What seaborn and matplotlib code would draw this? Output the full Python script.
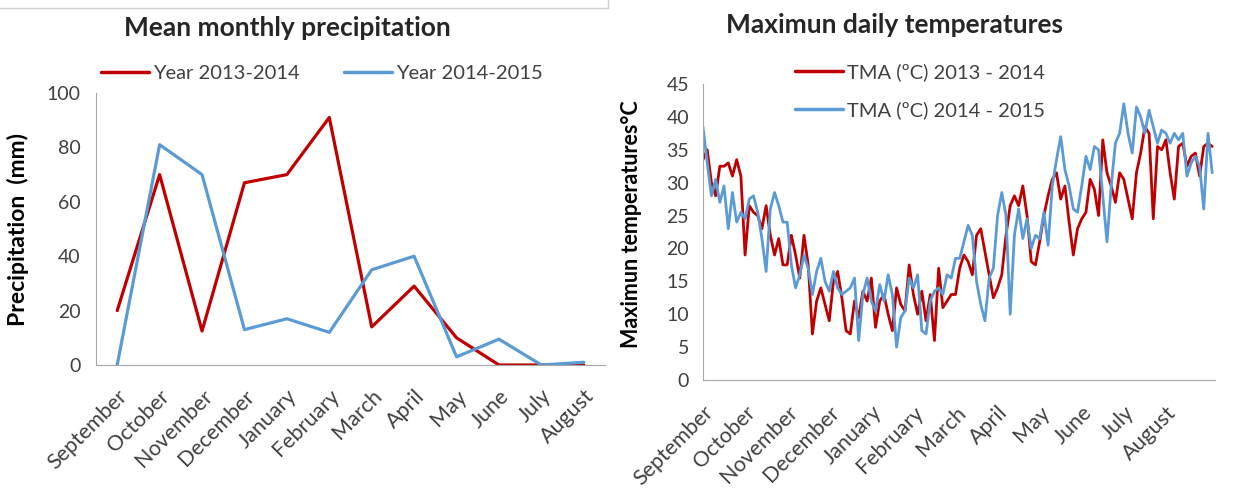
import numpy as np
import pandas as pd
import matplotlib
matplotlib.use('Agg')
import matplotlib.pyplot as plt
import seaborn as sns
from matplotlib.lines import Line2D

# Monthly precipitation (mm)
months = ['September', 'October', 'November', 'December', 'January', 'February',
          'March', 'April', 'May', 'June', 'July', 'August']
rain_1314 = [20, 70, 12.5, 67, 70, 91, 14, 29, 10, 0, 0, 0]
rain_1415 = [0, 81, 70, 13, 17, 12, 35, 40, 3, 9.5, 0, 1]

# Maximum daily temperature, read every 3 days starting 1 September
tma_1314 = [33.5, 35, 30, 28, 32.5, 32.5, 33, 31, 33.5, 31,
            19, 26.5, 25.5, 25, 23, 26.5, 22, 19, 21.5, 17.5,
            17.5, 22, 19, 15.5, 22, 17.5, 7, 12, 14, 11.5,
            9, 15, 16.5, 12.5, 7.5, 7, 12, 9.5, 13.5, 12,
            15.5, 8, 12, 13, 10, 7.5, 14, 11.5, 10.5, 17.5,
            13, 10, 13.5, 9, 13, 6, 17, 11, 12, 13,
            13, 17, 19, 18, 16, 22, 23, 19.5, 16, 12.5,
            14, 16, 22, 26.5, 28, 26.5, 29.5, 25, 18, 17.5,
            21, 25, 28, 30.5, 31.5, 27.5, 29.5, 24, 19, 23,
            24.5, 25.5, 30.5, 29, 25, 36.5, 31.5, 29.5, 27, 31.5,
            30.5, 27.5, 24.5, 31.5, 34.5, 38.5, 37.5, 24.5, 35.5, 35,
            36.5, 31.5, 27.5, 35.5, 36, 32.5, 34, 34.5, 31, 35.5, 36, 35.5]
tma_1415 = [38.5, 33, 28, 30.5, 27, 29.5, 23, 28.5, 24, 25.5,
            24.5, 27.5, 28, 25.5, 21.5, 16.5, 26, 28.5, 26.5, 24,
            24, 17.5, 14, 16, 19, 17, 13, 16.5, 18.5, 15,
            13.5, 16.5, 14, 13, 13.5, 14, 15.5, 6, 13, 15.5,
            12, 10.5, 14.5, 12, 16, 13, 5, 9.5, 10.5, 15.5,
            14, 16, 7.5, 7, 12, 13.5, 14, 13, 16, 15.5,
            18.5, 18.5, 21, 23.5, 22, 15, 11.5, 9, 15.5, 17,
            25, 28.5, 25, 10, 22, 26, 21.5, 24.5, 20, 22,
            21.5, 25.5, 20.5, 29.5, 33.5, 37, 32, 29.5, 26, 25.5,
            29.5, 34, 32, 35.5, 35, 28, 21, 29.5, 36, 37.5,
            42, 37.5, 34.5, 41.5, 40, 37.5, 41, 38.5, 36, 38,
            37.5, 36, 37.5, 36.5, 37.5, 31, 33, 34, 32.5, 26, 37.5, 31.5]

red = '#c00000'
blue = '#5b9bd5'
axis_grey = '#a6a6a6'
text_grey = '#404040'

sns.set_style('white')
plt.rcParams['font.family'] = ['Lato', 'DejaVu Sans']

fig = plt.figure(figsize=(12.34, 4.88), dpi=100)

# ---- left: precipitation
ax1 = fig.add_axes([96 / 1234, 1 - 365 / 488, 509 / 1234, 272 / 488])
df_rain = pd.DataFrame({'pos': list(range(12)) * 2,
                        'mm': rain_1314 + rain_1415,
                        'Series': ['Year 2013-2014'] * 12 + ['Year 2014-2015'] * 12})
sns.lineplot(data=df_rain, x='pos', y='mm', hue='Series', palette=[red, blue],
             linewidth=2.3, ax=ax1, legend=False)
ax1.set_xlim(-0.5, 11.5)
ax1.set_ylim(0, 100)
ax1.set_yticks(range(0, 101, 20))
ax1.set_xticks(range(12))
ax1.set_xticklabels(months, rotation=45, ha='right', rotation_mode='anchor')
ax1.set_xticks(np.arange(-0.5, 12, 1), minor=True)
ax1.tick_params(axis='x', which='major', length=0, pad=15)
ax1.tick_params(axis='x', which='minor', length=8, color=axis_grey, direction='out')
ax1.tick_params(axis='y', length=7, color=axis_grey, direction='out', pad=4, labelsize=14)
ax1.tick_params(axis='x', labelsize=15.5)
ax1.set_xlabel('')
ax1.set_ylabel('Precipitation  (mm)', fontsize=16.5, fontweight='bold', color='black',
               va='center')
ax1.yaxis.set_label_coords(-0.153, 0.5)
ax1.set_title('Mean monthly precipitation', fontsize=19, fontweight='bold',
              x=0.376, y=1.239, va='center', pad=0)
handles1 = [Line2D([], [], color=red, lw=2.5), Line2D([], [], color=blue, lw=2.5)]
fig.legend(handles1, ['Year 2013-2014', 'Year 2014-2015'], ncol=2, loc='center',
           bbox_to_anchor=(322 / 1234, 1 - 73 / 488), frameon=False, fontsize=14.5,
           handlelength=2.4, handletextpad=0.2, columnspacing=2.2, labelcolor=text_grey)

# ---- right: daily maximum temperature
ax2 = fig.add_axes([703 / 1234, 1 - 380 / 488, 512 / 1234, 296 / 488])
days = np.arange(len(tma_1314)) * 3
df_tma = pd.DataFrame({'day': np.concatenate([days, days]),
                       'temp': tma_1314 + tma_1415,
                       'Series': ['TMA (ºC) 2013 - 2014'] * len(days) +
                                 ['TMA (ºC) 2014 - 2015'] * len(days)})
sns.lineplot(data=df_tma, x='day', y='temp', hue='Series', palette=[red, blue],
             linewidth=2.0, ax=ax2, legend=False)
ax2.set_xlim(0, 365)
ax2.set_ylim(0, 45)
ax2.set_yticks(range(0, 46, 5))
ax2.set_xticks(range(0, 331, 30))
ax2.set_xticklabels(months, rotation=45, ha='right', rotation_mode='anchor')
ax2.set_xticks(range(15, 361, 30), minor=True)
ax2.tick_params(axis='x', which='both', length=7, color=axis_grey, direction='out', pad=9)
ax2.tick_params(axis='y', length=6, color=axis_grey, direction='out', pad=4, labelsize=14)
ax2.tick_params(axis='x', labelsize=15.5)
ax2.set_xlabel('')
ax2.set_ylabel('Maximun temperatures°C', fontsize=15.5, fontweight='bold', color='black',
               va='center')
ax2.yaxis.set_label_coords(-0.139, 0.527)
ax2.set_title('Maximun daily temperatures', fontsize=19, fontweight='bold',
              x=0.375, y=1.2, va='center', pad=0)
handles2 = [Line2D([], [], color=red, lw=2.5), Line2D([], [], color=blue, lw=2.5)]
fig.legend(handles2, ['TMA (ºC) 2013 - 2014', 'TMA (ºC) 2014 - 2015'], ncol=1, loc='center',
           bbox_to_anchor=(920 / 1234, 1 - 91 / 488), frameon=False, fontsize=14.5,
           handlelength=2.4, handletextpad=0.2, labelspacing=1.0, labelcolor=text_grey)

for ax in (ax1, ax2):
    sns.despine(ax=ax)
    ax.spines['left'].set_color(axis_grey)
    ax.spines['bottom'].set_color(axis_grey)
    ax.tick_params(labelcolor=text_grey)

# thin border of the original screenshot at the top
fig.add_artist(Line2D([0, 608 / 1234], [1 - 8 / 488, 1 - 8 / 488], color='#d0d0d0', lw=1))
fig.add_artist(Line2D([608 / 1234, 608 / 1234], [1 - 8 / 488, 1], color='#d0d0d0', lw=1))

fig.savefig('out.png', dpi=100)
